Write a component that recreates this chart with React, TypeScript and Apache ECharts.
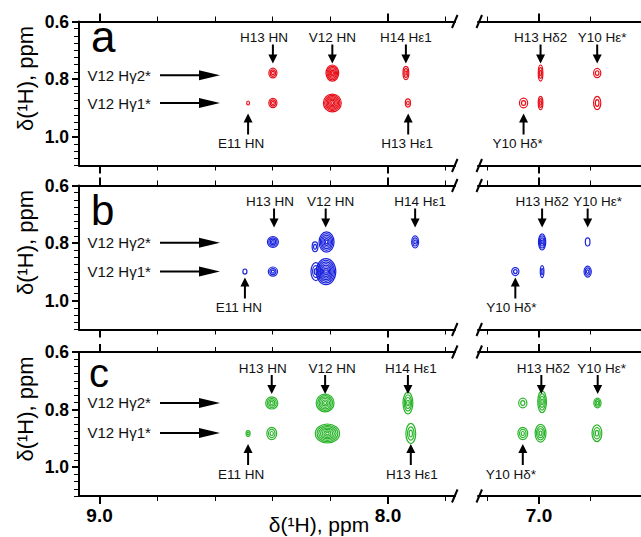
import React, { useEffect, useRef } from "react";
import * as echarts from "echarts";

const FONT = '"Liberation Sans", Arial, Helvetica, sans-serif';

// ---------- data ----------
const panelNames = ["a", "b", "c"];
const panelColors = ["#e8101a", "#1b24dc", "#2cb52c"];

const leftMinorTicks = [9.0, 8.8, 8.6, 8.4, 8.2, 8.0, 7.8];
const leftMajorTicks = [9.0, 8.0];
const rightMinorTicks = [7.2, 7.0, 6.8];
const rightMajorTicks = [7.0];
const yMinorTicks = [
  0.6, 0.625, 0.65, 0.675, 0.7, 0.725, 0.75, 0.775, 0.8, 0.825, 0.85, 0.875,
  0.9, 0.925, 0.95, 0.975, 1.0, 1.025, 1.05, 1.075, 1.1,
];
const yMajorTicks = [0.6, 0.8, 1.0];

// peaks: [x ppm, y ppm, half-width x (ppm), half-width y (ppm), contour levels]
const peaksA = [
  [8.485, 0.883, 0.005, 0.007, 1],
  [8.399, 0.779, 0.014, 0.017, 3],
  [8.399, 0.883, 0.014, 0.016, 3],
  [8.193, 0.779, 0.022, 0.028, 6],
  [8.193, 0.883, 0.031, 0.031, 7],
  [7.938, 0.779, 0.01, 0.023, 3],
  [7.931, 0.883, 0.009, 0.014, 2],
  [7.06, 0.883, 0.016, 0.017, 2],
  [6.994, 0.779, 0.009, 0.028, 3],
  [6.994, 0.883, 0.009, 0.023, 3],
  [6.774, 0.779, 0.014, 0.016, 2],
  [6.774, 0.883, 0.014, 0.023, 2],
];
const peaksB = [
  [8.496, 0.899, 0.007, 0.009, 1],
  [8.399, 0.796, 0.019, 0.019, 4],
  [8.399, 0.899, 0.016, 0.016, 3],
  [8.213, 0.796, 0.026, 0.035, 6],
  [8.253, 0.813, 0.01, 0.017, 2],
  [8.215, 0.899, 0.034, 0.045, 8],
  [8.25, 0.899, 0.017, 0.031, 3],
  [7.906, 0.796, 0.012, 0.021, 3],
  [7.092, 0.899, 0.014, 0.014, 2],
  [6.988, 0.796, 0.014, 0.028, 4],
  [6.988, 0.899, 0.007, 0.021, 2],
  [6.811, 0.796, 0.009, 0.014, 1],
  [6.811, 0.899, 0.014, 0.019, 3],
];
const peaksC = [
  [8.485, 0.883, 0.007, 0.01, 2],
  [8.403, 0.777, 0.021, 0.021, 4],
  [8.403, 0.883, 0.017, 0.021, 3],
  [8.218, 0.777, 0.031, 0.031, 6],
  [8.21, 0.883, 0.042, 0.033, 7],
  [7.931, 0.777, 0.017, 0.038, 4],
  [7.921, 0.883, 0.017, 0.035, 3],
  [7.063, 0.777, 0.016, 0.017, 2],
  [7.063, 0.883, 0.019, 0.021, 3],
  [6.988, 0.773, 0.017, 0.038, 4],
  [6.994, 0.882, 0.021, 0.031, 4],
  [6.773, 0.777, 0.014, 0.017, 3],
  [6.775, 0.882, 0.019, 0.029, 3],
];

// annotations: [label, x ppm of the peak pointed at, side (0 above, 1 below)]
const annotA = [
  ["H13 HN", 8.399, 0],
  ["V12 HN", 8.193, 0],
  ["H14 Hε1", 7.938, 0],
  ["H13 Hδ2", 6.994, 0],
  ["Y10 Hε*", 6.774, 0],
  ["E11 HN", 8.485, 1],
  ["H13 Hε1", 7.93, 1],
  ["Y10 Hδ*", 7.06, 1],
];
const annotB = [
  ["H13 HN", 8.395, 0],
  ["V12 HN", 8.216, 0],
  ["H14 Hε1", 7.906, 0],
  ["H13 Hδ2", 6.988, 0],
  ["Y10 Hε*", 6.811, 0],
  ["E11 HN", 8.496, 1],
  ["Y10 Hδ*", 7.092, 1],
];
const annotC = [
  ["H13 HN", 8.403, 0],
  ["V12 HN", 8.218, 0],
  ["H14 Hε1", 7.931, 0],
  ["H13 Hδ2", 6.991, 0],
  ["Y10 Hε*", 6.772, 0],
  ["E11 HN", 8.485, 1],
  ["H13 Hε1", 7.921, 1],
  ["Y10 Hδ*", 7.063, 1],
];

// row labels (methyl resonances) and their y ppm per panel
const rowLabels = ["V12 Hγ2*", "V12 Hγ1*"];
const rowYA = [0.787, 0.883];
const rowYB = [0.799, 0.899];
const rowYC = [0.777, 0.881];

// ---------- layout (pixels) ----------
const labelNudge = [
  [-9, 0, 0, 0, 5, -7, -1, -6],
  [-4, 5, 5, 0, 10, -6, -4],
  [-9, 7, 3, 2, 4, -7, 1, -12],
];
const PANEL_TOPS = [21.5, 185.5, 352];
const PANEL_H = 144;
const LEFT_X = 79;
const LEFT_W = 376;
const RIGHT_X = 478;
const RIGHT_W = 183;
const LEFT_MIN = 7.7678;
const LEFT_MAX = 9.0711;
const RIGHT_MIN = 6.6038;
const RIGHT_MAX = 7.237;
const Y_MIN = 0.6;
const Y_MAX = 1.1;

const peaksAll = [peaksA, peaksB, peaksC];
const annotAll = [annotA, annotB, annotC];
const rowYAll = [rowYA, rowYB, rowYC];

function xAxisDef(gi: number, min: number, max: number, position: string, ticks: number[], len: number, w: number, line: boolean, labels: boolean, labelVals: number[]) {
  return {
    type: "value",
    gridIndex: gi,
    min,
    max,
    inverse: true,
    position,
    axisLine: { show: line, onZero: false, lineStyle: { color: "#000", width: 2 } },
    axisTick: { show: true, inside: false, length: len, customValues: ticks, lineStyle: { color: "#000", width: w } },
    axisLabel: {
      show: labels,
      customValues: labelVals,
      formatter: (v: number) => v.toFixed(1),
      color: "#000",
      fontFamily: FONT,
      fontWeight: "bold",
      fontSize: 19,
      margin: 10,
    },
    splitLine: { show: false },
    minorTick: { show: false },
  };
}

function yAxisDef(gi: number, ticks: number[], len: number, w: number, line: boolean, labels: boolean) {
  return {
    type: "value",
    gridIndex: gi,
    min: Y_MIN,
    max: Y_MAX,
    inverse: true,
    position: "left",
    axisLine: { show: line, onZero: false, lineStyle: { color: "#000", width: 2 } },
    axisTick: { show: true, inside: false, length: len, customValues: ticks, lineStyle: { color: "#000", width: w } },
    axisLabel: {
      show: labels,
      customValues: yMajorTicks,
      formatter: (v: number) => v.toFixed(1),
      color: "#000",
      fontFamily: FONT,
      fontWeight: "bold",
      fontSize: 17.5,
      margin: 10,
    },
    splitLine: { show: false },
  };
}

function buildOption() {
  const grids: any[] = [];
  const xAxes: any[] = [];
  const yAxes: any[] = [];
  const series: any[] = [];
  const graphics: any[] = [];

  PANEL_TOPS.forEach((top, p) => {
    const color = panelColors[p];
    [0, 1].forEach((s) => {
      const gi = grids.length;
      const isLeft = s === 0;
      grids.push({ left: isLeft ? LEFT_X : RIGHT_X, top, width: isLeft ? LEFT_W : RIGHT_W, height: PANEL_H });
      const min = isLeft ? LEFT_MIN : RIGHT_MIN;
      const max = isLeft ? LEFT_MAX : RIGHT_MAX;
      const minor = isLeft ? leftMinorTicks : rightMinorTicks;
      const major = isLeft ? leftMajorTicks : rightMajorTicks;
      const xi = xAxes.length;
      xAxes.push(xAxisDef(gi, min, max, "bottom", minor, 5, 1, true, false, major));
      xAxes.push(xAxisDef(gi, min, max, "bottom", major, 8, 2, false, p === 2, major));
      xAxes.push(xAxisDef(gi, min, max, "top", minor, 5, 1, true, false, major));
      xAxes.push(xAxisDef(gi, min, max, "top", major, 8, 2, false, false, major));
      const yi = yAxes.length;
      if (isLeft) {
        yAxes.push(yAxisDef(gi, yMinorTicks, 5, 1, true, false));
        yAxes.push(yAxisDef(gi, yMajorTicks, 7, 2, false, true));
      } else {
        yAxes.push({ type: "value", gridIndex: gi, min: Y_MIN, max: Y_MAX, inverse: true, show: false });
      }

      const inSection = (x: number) => (isLeft ? x > 7.5 : x < 7.5);

      // peaks as contour rings
      const peaks = peaksAll[p].filter((d) => inSection(d[0]));
      series.push({
        type: "custom",
        xAxisIndex: xi,
        yAxisIndex: yi,
        silent: true,
        data: peaks,
        encode: { x: 0, y: 1 },
        renderItem: (params: any, api: any) => {
          const x = api.value(0);
          const y = api.value(1);
          const c = api.coord([x, y]);
          const sz = api.size([api.value(2), api.value(3)], [x, y]);
          const n = api.value(4);
          const children: any[] = [];
          for (let k = 0; k < n; k++) {
            const f = 1 - k / n;
            children.push({
              type: "ellipse",
              shape: { cx: c[0], cy: c[1], rx: Math.max(0.9, sz[0] * f), ry: Math.max(0.9, sz[1] * f) },
              style: { fill: "none", stroke: color, lineWidth: 1.2 },
            });
          }
          return { type: "group", children };
        },
      });

      // labels with arrows
      const annIdx: number[] = [];
      annotAll[p].forEach((a, i) => {
        if (inSection(a[1] as number)) annIdx.push(i);
      });
      series.push({
        type: "custom",
        xAxisIndex: xi,
        yAxisIndex: yi,
        silent: true,
        data: annIdx.map((i) => [annotAll[p][i][1], Y_MIN]),
        encode: { x: 0, y: 1 },
        renderItem: (params: any, api: any) => {
          const i = annIdx[params.dataIndex];
          const a = annotAll[p][i];
          const nudge = labelNudge[p][i];
          const pt = api.coord([api.value(0), Y_MIN]);
          const x = pt[0];
          const t = pt[1];
          const children: any[] = [];
          if (a[2] === 0) {
            children.push({
              type: "text",
              style: { text: a[0], x: x + nudge, y: t + 16, fill: "#111", fontSize: 13.5, fontFamily: FONT, align: "center", verticalAlign: "middle" },
            });
            children.push({ type: "line", shape: { x1: x, y1: t + 23, x2: x, y2: t + 34 }, style: { stroke: "#000", lineWidth: 2 } });
            children.push({ type: "polygon", shape: { points: [[x - 4.5, t + 33], [x + 4.5, t + 33], [x, t + 42]] }, style: { fill: "#000" } });
          } else {
            children.push({
              type: "text",
              style: { text: a[0], x: x + nudge, y: t + 122, fill: "#111", fontSize: 13.5, fontFamily: FONT, align: "center", verticalAlign: "middle" },
            });
            children.push({ type: "line", shape: { x1: x, y1: t + 100, x2: x, y2: t + 113 }, style: { stroke: "#000", lineWidth: 2 } });
            children.push({ type: "polygon", shape: { points: [[x - 4.5, t + 101], [x + 4.5, t + 101], [x, t + 92]] }, style: { fill: "#000" } });
          }
          return { type: "group", children };
        },
      });

      if (isLeft) {
        const rows = rowYAll[p];
        series.push({
          type: "custom",
          xAxisIndex: xi,
          yAxisIndex: yi,
          silent: true,
          data: rows.map((y) => [LEFT_MAX, y]),
          encode: { x: 0, y: 1 },
          renderItem: (params: any, api: any) => {
            const pt = api.coord([LEFT_MAX, api.value(1)]);
            const x0 = pt[0];
            const y = pt[1];
            return {
              type: "group",
              children: [
                {
                  type: "text",
                  style: { text: rowLabels[params.dataIndex], x: x0 + 8.5, y, fill: "#111", fontSize: 15, fontFamily: FONT, align: "left", verticalAlign: "middle" },
                },
                { type: "line", shape: { x1: x0 + 81, y1: y, x2: x0 + 122, y2: y }, style: { stroke: "#000", lineWidth: 2 } },
                { type: "polygon", shape: { points: [[x0 + 120, y - 5], [x0 + 120, y + 5], [x0 + 141, y]] }, style: { fill: "#000" } },
              ],
            };
          },
        });
      }
    });

    // break marks on top and bottom lines
    [top, top + PANEL_H].forEach((yy) => {
      [452, 476.5].forEach((bx) => {
        graphics.push({
          type: "line",
          silent: true,
          shape: { x1: bx, y1: yy + 6.5, x2: bx + 5.5, y2: yy - 6.5 },
          style: { stroke: "#000", lineWidth: 2 },
        });
      });
    });

    // panel letter
    const letterSizes = [44, 42, 40];
    const letterBase = [52, 225, 387];
    graphics.push({
      type: "text",
      silent: true,
      x: p === 2 ? 89 : 91,
      y: letterBase[p] - letterSizes[p] * 0.35,
      style: { text: panelNames[p], fontSize: letterSizes[p], fontFamily: FONT, fill: "#000", align: "left", verticalAlign: "middle" },
    });

    // y axis title
    graphics.push({
      type: "text",
      silent: true,
      x: 25,
      y: top + 57,
      rotation: Math.PI / 2,
      style: { text: "δ(¹H), ppm", fontSize: 22, fontFamily: FONT, fill: "#000", align: "center", verticalAlign: "middle" },
    });
  });

  graphics.push({
    type: "text",
    silent: true,
    x: 319,
    y: 524,
    style: { text: "δ(¹H), ppm", fontSize: 21, fontFamily: FONT, fill: "#000", align: "center", verticalAlign: "middle" },
  });

  return {
    animation: false,
    backgroundColor: "#fff",
    grid: grids,
    xAxis: xAxes,
    yAxis: yAxes,
    series,
    graphic: { elements: graphics },
  };
}

export default function App() {
  const ref = useRef<HTMLDivElement>(null);
  useEffect(() => {
    if (!ref.current) return;
    const chart = echarts.init(ref.current, undefined, { renderer: "svg" });
    chart.setOption(buildOption() as any);
    return () => chart.dispose();
  }, []);
  return <div ref={ref} style={{ position: "fixed", left: 0, top: 0, width: 641, height: 537, background: "#fff" }} />;
}
